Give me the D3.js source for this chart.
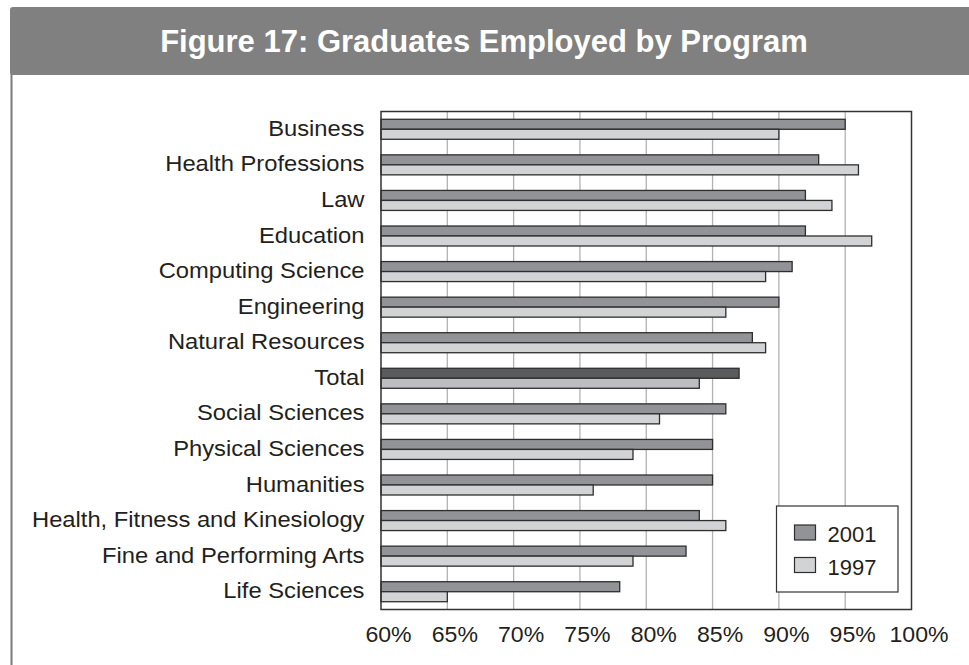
<!DOCTYPE html>
<html lang="en">
<head>
    <meta charset="UTF-8">
    <title>Figure 17: Graduates Employed by Program</title>
    <script src="https://d3js.org/d3.v7.min.js"></script>
    <style>
        body {
            margin: 0;
            background: #fff;
        }

        svg {
            font-family: "Liberation Sans", Arial, sans-serif;
        }

        .cat-label, .tick-label, .legend-label {
            font-size: 22px;
            fill: #231f20;
        }

        .title {
            font-size: 31px;
            font-weight: bold;
            fill: #fff;
            text-anchor: middle;
        }
    </style>
</head>
<body>

<div id="chart"></div>

<script>
    // Programs, top to bottom
    const categories = [
        "Business", "Health Professions", "Law", "Education", "Computing Science",
        "Engineering", "Natural Resources", "Total", "Social Sciences",
        "Physical Sciences", "Humanities", "Health, Fitness and Kinesiology",
        "Fine and Performing Arts", "Life Sciences"
    ];
    const values2001 = [95, 93, 92, 92, 91, 90, 88, 87, 86, 85, 85, 84, 83, 78];
    const values1997 = [90, 96, 94, 97, 89, 86, 89, 84, 81, 79, 76, 86, 79, 65];
    const seriesNames = ["2001", "1997"];
    const tickValues = [60, 65, 70, 75, 80, 85, 90, 95, 100];

    const width = 969;
    const height = 665;
    const plot = { left: 381, right: 911.5, top: 111.5, bottom: 609.5 };
    const barH = 10;

    const colors = { "2001": "#929396", "1997": "#d2d3d5" };
    const totalColors = { "2001": "#5a5b5d", "1997": "#bdbec1" };

    const svg = d3.select("#chart")
        .append("svg")
        .attr("width", width)
        .attr("height", height);

    // panel frame + title band
    svg.append("line")
        .attr("x1", 11.5).attr("x2", 11.5)
        .attr("y1", 10).attr("y2", height)
        .attr("stroke", "#7a7a7a")
        .attr("stroke-width", 2);

    svg.append("rect")
        .attr("x", 10).attr("y", 7)
        .attr("width", width + 10).attr("height", 68)
        .attr("rx", 3)
        .attr("fill", "#808080");

    svg.append("text")
        .attr("class", "title")
        .attr("x", 484)
        .attr("y", 52)
        .text("Figure 17: Graduates Employed by Program");

    const x = d3.scaleLinear()
        .domain([60, 100])
        .range([plot.left, plot.right]);

    const y = d3.scaleBand()
        .domain(categories)
        .range([plot.top, plot.bottom]);

    // gridlines
    svg.append("g")
        .selectAll("line")
        .data(tickValues.slice(1, -1))
        .enter()
        .append("line")
        .attr("x1", d => x(d)).attr("x2", d => x(d))
        .attr("y1", plot.top).attr("y2", plot.bottom)
        .attr("stroke", "#b2b2b2")
        .attr("stroke-width", 1.3);

    // bars
    const rows = categories.map((c, i) => ({ cat: c, v2001: values2001[i], v1997: values1997[i] }));

    const groups = svg.append("g")
        .selectAll("g")
        .data(rows)
        .enter()
        .append("g")
        .attr("transform", d => `translate(0,${y(d.cat) + y.bandwidth() / 2})`);

    groups.append("rect")
        .attr("x", x(60))
        .attr("y", -barH)
        .attr("width", d => x(d.v2001) - x(60))
        .attr("height", barH)
        .attr("fill", d => d.cat === "Total" ? totalColors["2001"] : colors["2001"])
        .attr("stroke", "#2e2e2e")
        .attr("stroke-width", 1.3);

    groups.append("rect")
        .attr("x", x(60))
        .attr("y", 0)
        .attr("width", d => x(d.v1997) - x(60))
        .attr("height", barH)
        .attr("fill", d => d.cat === "Total" ? totalColors["1997"] : colors["1997"])
        .attr("stroke", "#2e2e2e")
        .attr("stroke-width", 1.3);

    // category labels (source font is a little wider than Arial, stretch a bit)
    svg.append("g")
        .selectAll("text")
        .data(categories)
        .enter()
        .append("text")
        .attr("class", "cat-label")
        .attr("transform", d => `translate(${plot.left - 16.5},${y(d) + y.bandwidth() / 2}) scale(1.08,1)`)
        .attr("dy", "0.3em")
        .attr("text-anchor", "end")
        .text(d => d);

    // plot border
    svg.append("rect")
        .attr("x", plot.left).attr("y", plot.top)
        .attr("width", plot.right - plot.left)
        .attr("height", plot.bottom - plot.top)
        .attr("fill", "none")
        .attr("stroke", "#333")
        .attr("stroke-width", 1.5);

    // x axis labels
    const axis = d3.axisBottom(x)
        .tickValues(tickValues)
        .tickSize(0)
        .tickFormat(d => d + "%");

    const axisG = svg.append("g")
        .attr("transform", `translate(7,${plot.bottom})`)
        .call(axis);
    axisG.select(".domain").remove();
    axisG.attr("font-family", null).attr("font-size", null);
    axisG.selectAll("text")
        .attr("class", "tick-label")
        .attr("y", 0)
        .attr("dy", 0)
        .attr("transform", "translate(0,32) scale(1.05,1)");

    // legend
    const legend = svg.append("g").attr("transform", "translate(776.5,506)");
    legend.append("rect")
        .attr("width", 121.5).attr("height", 86)
        .attr("fill", "#fff")
        .attr("stroke", "#333")
        .attr("stroke-width", 1.2);

    const items = legend.selectAll("g.item")
        .data(seriesNames)
        .enter()
        .append("g")
        .attr("class", "item")
        .attr("transform", (d, i) => `translate(18,${19 + i * 32.5})`);

    items.append("rect")
        .attr("width", 21).attr("height", 15)
        .attr("fill", d => colors[d])
        .attr("stroke", "#2e2e2e")
        .attr("stroke-width", 1.2);

    items.append("text")
        .attr("class", "legend-label")
        .attr("x", 33)
        .attr("y", 17)
        .text(d => d);
</script>
</body>
</html>
